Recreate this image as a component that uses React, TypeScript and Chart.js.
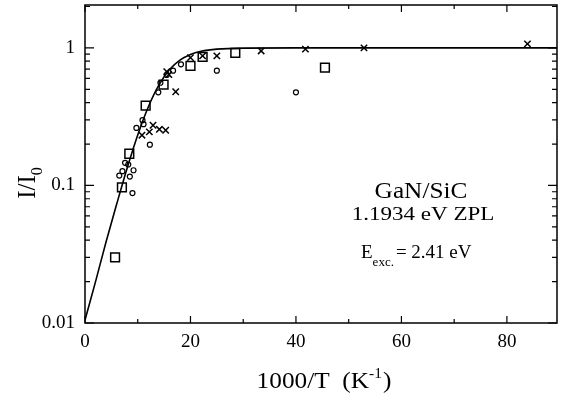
import React, { useEffect, useRef } from 'react';
import { Chart, registerables } from 'chart.js';

Chart.register(...registerables);

// ---- data ----
const squareX = [5.7, 7.0, 8.4, 11.5, 14.9, 20.0, 22.3, 28.5, 45.5];
const squareY = [0.030, 0.097, 0.17, 0.38, 0.54, 0.74, 0.86, 0.92, 0.72];

const circleX = [6.5, 7.1, 7.6, 8.2, 8.5, 9.0, 9.2, 9.75, 10.9, 11.1, 12.3, 13.9, 14.3, 15.5, 16.7, 18.2, 25.0, 40.0];
const circleY = [0.118, 0.127, 0.146, 0.142, 0.116, 0.088, 0.129, 0.262, 0.298, 0.279, 0.198, 0.475, 0.558, 0.636, 0.683, 0.76, 0.683, 0.475];

const crossX = [10.8, 12.2, 12.9, 14.1, 15.3, 15.5, 15.9, 17.2, 20.0, 22.3, 25.0, 33.4, 41.8, 52.9, 83.9];
const crossY = [0.232, 0.245, 0.274, 0.256, 0.252, 0.672, 0.64, 0.48, 0.85, 0.875, 0.875, 0.95, 0.98, 1.0, 1.07];

const curveX = [0, 2, 4, 6, 8, 10, 12, 14, 16, 18, 20, 22, 25, 30, 40, 60, 90];
const curveY = [0.0105, 0.020, 0.039, 0.073, 0.134, 0.233, 0.372, 0.536, 0.693, 0.815, 0.896, 0.944, 0.979, 0.996, 1.0, 1.0, 1.0];

const xMajorTicks = [0, 20, 40, 60, 80];
const xTickLabels = ['0', '20', '40', '60', '80'];
const xMinorTicks = [10, 30, 50, 70];
const yMajorTicks = [0.01, 0.1, 1];
const yTickLabels = ['0.01', '0.1', '1'];
const yMinorTicks = [0.02, 0.03, 0.04, 0.05, 0.06, 0.07, 0.08, 0.09, 0.2, 0.3, 0.4, 0.5, 0.6, 0.7, 0.8, 0.9, 2];

const X_MIN = 0;
const X_MAX = 89.5;
const Y_MIN = 0.01;
const Y_MAX = 2.05;

const FONT = '"Liberation Serif", "Times New Roman", serif';

function pairs(xs: number[], ys: number[]) {
  return xs.map((x, i) => ({ x, y: ys[i] }));
}

function drawText(ctx: CanvasRenderingContext2D, text: string, x: number, y: number, size: number, sx: number, align: CanvasTextAlign) {
  ctx.save();
  ctx.translate(x, y);
  ctx.scale(sx, 1);
  ctx.font = `${size}px ${FONT}`;
  ctx.textAlign = align;
  ctx.textBaseline = 'alphabetic';
  ctx.fillStyle = '#000';
  ctx.fillText(text, 0, 0);
  ctx.restore();
}

const framePlugin = {
  id: 'frameAndText',
  afterDraw(chart: any) {
    const ctx: CanvasRenderingContext2D = chart.ctx;
    const { left, right, top, bottom } = chart.chartArea;
    const xs = chart.scales.x;
    const ys = chart.scales.y;
    ctx.save();
    ctx.strokeStyle = '#000';
    ctx.lineWidth = 1.5;
    ctx.strokeRect(left, top, right - left, bottom - top);
    ctx.lineWidth = 1.2;
    ctx.beginPath();
    const xt = (v: number, len: number) => {
      const p = xs.getPixelForValue(v);
      ctx.moveTo(p, bottom); ctx.lineTo(p, bottom - len);
      ctx.moveTo(p, top); ctx.lineTo(p, top + len);
    };
    xMajorTicks.forEach(v => xt(v, 7));
    xMinorTicks.forEach(v => xt(v, 4));
    const yt = (v: number, len: number) => {
      const p = ys.getPixelForValue(v);
      ctx.moveTo(left, p); ctx.lineTo(left + len, p);
      ctx.moveTo(right, p); ctx.lineTo(right - len, p);
    };
    yMajorTicks.forEach(v => yt(v, 9));
    yMinorTicks.forEach(v => yt(v, 5));
    ctx.stroke();
    ctx.restore();

    // annotations
    drawText(ctx, 'GaN/SiC', 421, 198, 23, 1.1, 'center');
    drawText(ctx, '1.1934 eV ZPL', 423, 220, 18, 1.28, 'center');
    // E_exc. = 2.41 eV
    ctx.save();
    ctx.fillStyle = '#000';
    ctx.textBaseline = 'alphabetic';
    ctx.textAlign = 'left';
    let cx = 361;
    ctx.font = `19px ${FONT}`;
    ctx.fillText('E', cx, 258);
    cx += ctx.measureText('E').width;
    ctx.font = `13px ${FONT}`;
    ctx.fillText('exc.', cx, 266);
    cx += ctx.measureText('exc.').width + 2;
    ctx.font = `19px ${FONT}`;
    ctx.fillText('= 2.41 eV', cx, 258);
    ctx.restore();

    // x title: 1000/T  (K^-1)
    ctx.save();
    ctx.fillStyle = '#000';
    ctx.textBaseline = 'alphabetic';
    ctx.textAlign = 'left';
    const sx = 1.1;
    ctx.font = `23px ${FONT}`;
    const p1 = '1000/T  (K';
    const w1 = ctx.measureText(p1).width;
    ctx.font = `14px ${FONT}`;
    const p2 = '-1';
    const w2 = ctx.measureText(p2).width;
    ctx.font = `23px ${FONT}`;
    const w3 = ctx.measureText(')').width;
    const total = (w1 + w2 + w3 + 1) * sx;
    ctx.translate(324 - total / 2, 388);
    ctx.scale(sx, 1);
    ctx.fillText(p1, 0, 0);
    ctx.font = `14px ${FONT}`;
    ctx.fillText(p2, w1, -10);
    ctx.font = `23px ${FONT}`;
    ctx.fillText(')', w1 + w2 + 1, 0);
    ctx.restore();

    // y title: I/I0 rotated
    ctx.save();
    ctx.fillStyle = '#000';
    ctx.translate(35, 183);
    ctx.rotate(-Math.PI / 2);
    ctx.textBaseline = 'alphabetic';
    ctx.textAlign = 'left';
    ctx.font = `25px ${FONT}`;
    const a = 'I/I';
    const wa = ctx.measureText(a).width;
    ctx.font = `16px ${FONT}`;
    const wb = ctx.measureText('0').width;
    const start = -(wa + wb) / 2;
    ctx.font = `25px ${FONT}`;
    ctx.fillText(a, start, 0);
    ctx.font = `16px ${FONT}`;
    ctx.fillText('0', start + wa, 7);
    ctx.restore();
  },
};

function zeroPadding(scale: any) {
  scale.paddingTop = 0;
  scale.paddingBottom = 0;
  scale.paddingLeft = 0;
  scale.paddingRight = 0;
}

export default function App() {
  const canvasRef = useRef<HTMLCanvasElement | null>(null);

  useEffect(() => {
    document.body.style.margin = '0';
    const canvas = canvasRef.current;
    if (!canvas) return;
    const chart = new Chart(canvas, {
      type: 'scatter',
      data: {
        datasets: [
          { label: 'fit', data: pairs(curveX, curveY), showLine: true, borderColor: '#000', borderWidth: 1.6, pointRadius: 0, cubicInterpolationMode: 'monotone', fill: false },
          { label: 'squares', data: pairs(squareX, squareY), pointStyle: 'rect', pointRadius: 6.2, borderColor: '#000', borderWidth: 1.5, backgroundColor: 'rgba(255,255,255,0)', showLine: false },
          { label: 'circles', data: pairs(circleX, circleY), pointStyle: 'circle', pointRadius: 2.5, borderColor: '#000', borderWidth: 1.2, backgroundColor: 'rgba(255,255,255,0)', showLine: false },
          { label: 'crosses', data: pairs(crossX, crossY), pointStyle: 'crossRot', pointRadius: 4.5, borderColor: '#000', borderWidth: 1.5, showLine: false },
        ],
      } as any,
      options: {
        animation: false,
        responsive: false,
        devicePixelRatio: 1,
        layout: { autoPadding: false, padding: { top: 5, right: 4, left: 0, bottom: 0 } },
        plugins: { legend: { display: false }, tooltip: { enabled: false } },
        scales: {
          x: {
            type: 'linear', min: X_MIN, max: X_MAX,
            grid: { display: false, drawTicks: false },
            border: { display: false },
            afterBuildTicks: (scale: any) => { scale.ticks = xMajorTicks.map(v => ({ value: v })); },
            afterFit: (scale: any) => { scale.height = 75; zeroPadding(scale); },
            ticks: { color: '#000', font: { family: FONT, size: 19 }, padding: 8, maxRotation: 0, autoSkip: false, callback: (_v: any, i: number) => xTickLabels[i] },
          },
          y: {
            type: 'logarithmic', min: Y_MIN, max: Y_MAX,
            grid: { display: false, drawTicks: false },
            border: { display: false },
            afterBuildTicks: (scale: any) => { scale.ticks = yMajorTicks.map(v => ({ value: v })); },
            afterFit: (scale: any) => { scale.width = 85; zeroPadding(scale); },
            ticks: { color: '#000', font: { family: FONT, size: 19 }, padding: 10, autoSkip: false, callback: (_v: any, i: number) => yTickLabels[i] },
          },
        },
      } as any,
      plugins: [framePlugin],
    });
    return () => chart.destroy();
  }, []);

  return (
    <div style={{ position: 'fixed', left: 0, top: 0, width: 561, height: 398, background: '#fff' }}>
      <canvas ref={canvasRef} width={561} height={398} style={{ width: 561, height: 398 }} />
    </div>
  );
}
